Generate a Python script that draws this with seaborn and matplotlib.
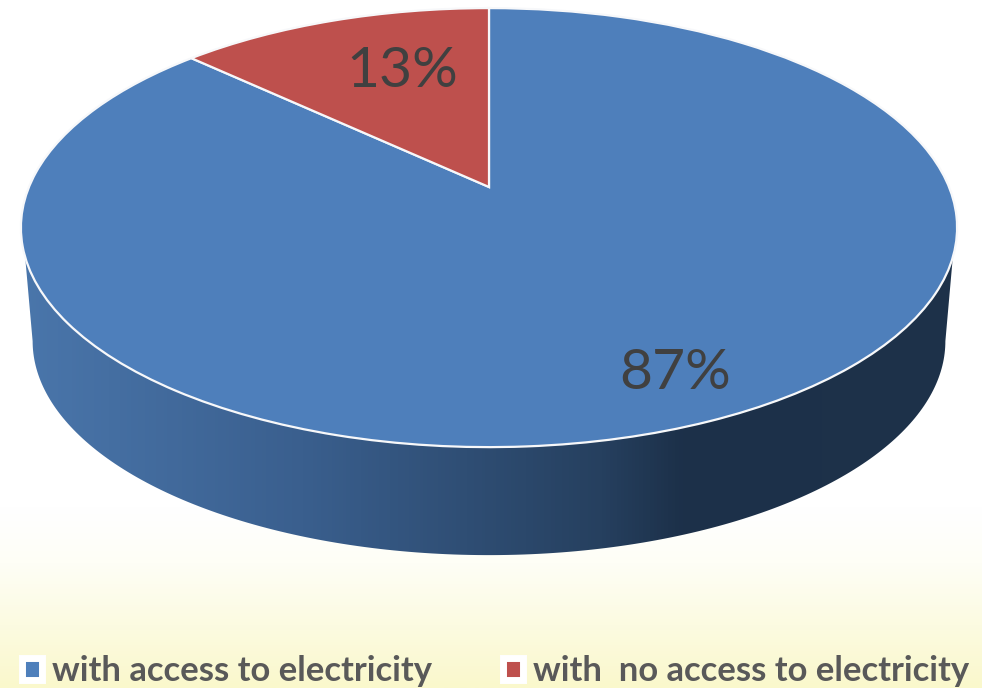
import numpy as np
import matplotlib
matplotlib.use("Agg")
import matplotlib.pyplot as plt
from matplotlib.colors import LinearSegmentedColormap
from matplotlib.patches import Patch, PathPatch
from matplotlib.path import Path
from matplotlib.transforms import Transform
import seaborn as sns

# ---- data ----
categories = ["with access to electricity", "with  no access to electricity"]
shares = [87, 13]
pie_colors = ["#4E7FBB", "#BE504D"]
label_radius = [0.834, 0.644]
label_angle = [-65.4, 109.06]

sns.set_theme(style="white")
plt.rcParams["font.family"] = ["Lato", "DejaVu Sans"]

# perspective of the pie's disc, output in pixels about the pie's centre
TILT = 0.185
SY = 212.0
SX = 460.0


class Tilt(Transform):
    input_dims = 2
    output_dims = 2
    is_separable = False
    has_inverse = False

    def __init__(self, scale=1.0, drop=0.0):
        super().__init__()
        self.scale = scale
        self.drop = drop

    def transform_non_affine(self, values):
        v = np.asarray(values, dtype=float)
        d = 1 + TILT * v[:, 1]
        return np.column_stack([self.scale * SX * v[:, 0] / d,
                                self.scale * SY * v[:, 1] / d - self.drop])


fig = plt.figure(figsize=(9.82, 6.88), dpi=100, facecolor="white")
ax = fig.add_axes([0, 0, 1, 1])

wedges, _, autotexts = ax.pie(
    shares, colors=sns.color_palette(pie_colors), startangle=90, counterclock=False,
    autopct="%d%%", wedgeprops=dict(edgecolor="#F7F8FA", linewidth=1.6, zorder=4),
    textprops=dict(fontsize=41, color="#404040"),
)
top = Tilt() + ax.transData
for w in wedges:
    w.set_transform(top)
for t, r, a in zip(autotexts, label_radius, label_angle):
    t.set_position((r * np.cos(np.radians(a)), r * np.sin(np.radians(a))))
    t.set_transform(top)
    t.set_zorder(6)

# background fade
XL, XR, YB, YT = -489, 493, -501, 187
fade = LinearSegmentedColormap.from_list(
    "fade", [(0, "#FFFFFF"), (0.74, "#FFFFFF"), (0.82, "#FEFEF6"), (1, "#FAF8CC")])
ax.imshow(np.linspace(0, 1, 256)[:, None], cmap=fade, origin="upper", aspect="auto",
          extent=(XL, XR, YB, YT), zorder=0, vmin=0, vmax=1)

# side wall
wall_cmap = LinearSegmentedColormap.from_list(
    "wall", [(0, "#4A76AB"), (0.30, "#3A5F8E"), (0.62, "#26405F"), (0.71, "#1C3049"), (1, "#1E3249")])
low = np.linspace(np.pi + np.arcsin(TILT), 2 * np.pi - np.arcsin(TILT), 200)
low_pts = Tilt(0.975, 114.5).transform(np.column_stack([np.cos(low), np.sin(low)]))
up = np.array([2 * np.pi - 0.317, np.pi + 0.317])
up_pts = Tilt().transform(np.column_stack([np.cos(up), np.sin(up)]))
wall_path = Path(np.vstack([up_pts[1], low_pts, up_pts[0], up_pts[1]]), closed=True)
wall_im = ax.imshow(np.linspace(0, 1, 256)[None, :], cmap=wall_cmap, aspect="auto",
                    extent=(-468, 468, -380, 0), zorder=2, vmin=0, vmax=1)
wall_im.set_clip_path(PathPatch(wall_path, transform=ax.transData))

ax.set_aspect("auto")
ax.set_xlim(XL, XR)
ax.set_ylim(YB, YT)
ax.axis("off")

handles = [Patch(facecolor=c, edgecolor="white", linewidth=5) for c in pie_colors]
leg = ax.legend(handles, categories, ncol=2, frameon=False, loc="lower left",
                bbox_to_anchor=(0.0225, 0.001), handlelength=0.58, handleheight=0.58,
                handletextpad=0.285, columnspacing=2.04, borderpad=0, borderaxespad=0,
                labelcolor="#595959", prop=dict(family="Lato", weight="bold", size=24.95))
leg.set_zorder(8)

fig.savefig("out.png", dpi=100)
